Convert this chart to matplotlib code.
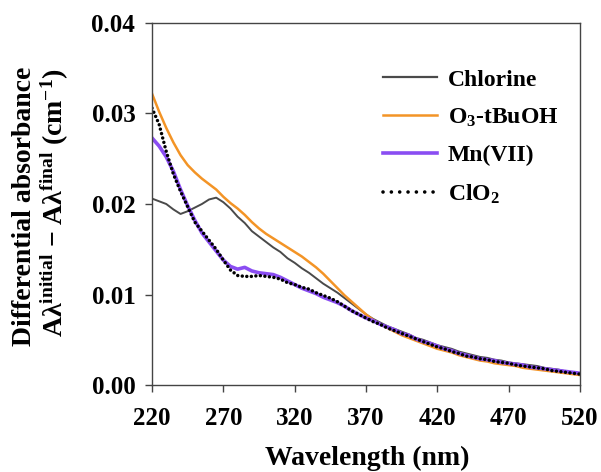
import numpy as np
import matplotlib
matplotlib.use("Agg")
import matplotlib.pyplot as plt
from matplotlib.lines import Line2D

plt.rcParams["font.family"] = ["Liberation Serif", "DejaVu Serif"]
plt.rcParams["font.weight"] = "bold"
plt.rcParams["mathtext.fontset"] = "custom"
plt.rcParams["mathtext.rm"] = "Liberation Serif:bold"
plt.rcParams["mathtext.it"] = "Liberation Serif:bold"
plt.rcParams["mathtext.bf"] = "Liberation Serif:bold"

# Wavelength grid (nm)
wavelength = list(range(220, 521, 5))

chlorine = [
    0.0206, 0.0203, 0.0200, 0.0194, 0.0189, 0.0192, 0.0196, 0.0200, 0.0205, 0.0207,
    0.0202, 0.0195, 0.0186, 0.0179, 0.0170, 0.0164, 0.0158, 0.0152, 0.0147, 0.0140,
    0.0135, 0.0129, 0.0124, 0.0118, 0.0112, 0.0107, 0.0102, 0.0096, 0.0090, 0.0084,
    0.0078, 0.0073, 0.0069, 0.0065, 0.0062, 0.0059, 0.0056, 0.0052, 0.0050, 0.0047,
    0.0044, 0.0042, 0.0040, 0.0037, 0.0035, 0.0033, 0.0031, 0.0030, 0.0028, 0.0027,
    0.0025, 0.0024, 0.0023, 0.0022, 0.0021, 0.0019, 0.0018, 0.0017, 0.0015, 0.0014,
    0.0013,
]

ozone_tbuoh = [
    0.0322, 0.0302, 0.0284, 0.0268, 0.0254, 0.0243, 0.0235, 0.0228, 0.0222, 0.0216,
    0.0208, 0.0201, 0.0195, 0.0188, 0.0180, 0.0173, 0.0167, 0.0162, 0.0157, 0.0152,
    0.0147, 0.0142, 0.0136, 0.0130, 0.0123, 0.0115, 0.0107, 0.0099, 0.0092, 0.0085,
    0.0078, 0.0072, 0.0067, 0.0063, 0.0059, 0.0055, 0.0052, 0.0049, 0.0046, 0.0043,
    0.0040, 0.0038, 0.0036, 0.0033, 0.0031, 0.0029, 0.0027, 0.0026, 0.0024, 0.0023,
    0.0022, 0.0021, 0.0019, 0.0018, 0.0017, 0.0016, 0.0015, 0.0014, 0.0013, 0.0012,
    0.0011,
]

mn_vii = [
    0.0273, 0.0264, 0.0252, 0.0236, 0.0216, 0.0198, 0.0182, 0.0168, 0.0158, 0.0148,
    0.0138, 0.0131, 0.0128, 0.0130, 0.0126, 0.0124, 0.0123, 0.0122, 0.0119, 0.0115,
    0.0111, 0.0107, 0.0104, 0.0101, 0.0097, 0.0094, 0.0091, 0.0087, 0.0082, 0.0078,
    0.0074, 0.0071, 0.0067, 0.0064, 0.0061, 0.0057, 0.0055, 0.0051, 0.0048, 0.0046,
    0.0043, 0.0040, 0.0038, 0.0035, 0.0033, 0.0031, 0.0029, 0.0028, 0.0027, 0.0025,
    0.0024, 0.0023, 0.0022, 0.0020, 0.0019, 0.0018, 0.0017, 0.0016, 0.0015, 0.0014,
    0.0013,
]

clo2 = [
    0.0306, 0.0288, 0.0258, 0.0233, 0.0214, 0.0197, 0.0180, 0.0170, 0.0160, 0.0150,
    0.0138, 0.0127, 0.0121, 0.0120, 0.0120, 0.0121, 0.0120, 0.0119, 0.0117, 0.0113,
    0.0111, 0.0108, 0.0106, 0.0102, 0.0099, 0.0096, 0.0092, 0.0087, 0.0082, 0.0078,
    0.0074, 0.0070, 0.0067, 0.0063, 0.0060, 0.0057, 0.0054, 0.0051, 0.0048, 0.0045,
    0.0042, 0.0040, 0.0037, 0.0035, 0.0032, 0.0031, 0.0029, 0.0028, 0.0026, 0.0025,
    0.0024, 0.0022, 0.0021, 0.0020, 0.0019, 0.0018, 0.0016, 0.0015, 0.0014, 0.0013,
    0.0012,
]

x_ticks = [220, 270, 320, 370, 420, 470, 520]
y_ticks = [0.00, 0.01, 0.02, 0.03, 0.04]

fig = plt.figure(figsize=(6.01, 4.72), dpi=100)
ax = fig.add_axes([0.2529, 0.1843, 0.7122, 0.767])

gray, orange, purple = "#4a4a4a", "#f39426", "#8a4df2"
ax.plot(wavelength, chlorine, color=gray, lw=1.4)
ax.plot(wavelength, ozone_tbuoh, color=orange, lw=1.8)
ax.plot(wavelength, mn_vii, color=purple, lw=2.6)
ax.plot(wavelength, clo2, color="black", lw=2.5, linestyle=(0, (0.01, 1.3)),
        dash_capstyle="round")

ax.set_xlim(220, 520)
ax.set_ylim(0, 0.04)
ax.set_xticks(x_ticks)
ax.set_yticks(y_ticks)
ax.set_yticklabels([f"{v:.2f}" for v in y_ticks])

for side in ("left", "bottom", "top", "right"):
    ax.spines[side].set_color("#444444")
    ax.spines[side].set_linewidth(1.0)

ax.tick_params(axis="both", direction="out", length=5, width=1,
               color="#444444", labelsize=18)
ax.tick_params(axis="y", pad=7)
ax.tick_params(axis="x", pad=11)

fig.text(0.6115, 0.0145, "Wavelength (nm)", ha="center", va="baseline",
         fontsize=20, fontweight="bold")

fig.text(0.040, 0.5636, "Differential absorbance", rotation=90,
         ha="center", va="center", fontsize=20, fontweight="bold")
fig.text(0.091, 0.571,
         "A\u03bb$^{\\mathrm{initial}}$ \u2212 A\u03bb$^{\\mathrm{final}}$ (cm$^{-1}$)",
         rotation=90, ha="center", va="center", fontsize=20, fontweight="bold")

# legend keys (dotted key drawn with wider dot spacing)
handles = [
    Line2D([], [], color=gray, lw=1.6),
    Line2D([], [], color=orange, lw=1.8),
    Line2D([], [], color=purple, lw=2.6),
    Line2D([], [], color="black", lw=2.6, linestyle=(0, (0.01, 2.3)),
           dash_capstyle="round"),
]
labels = ["Chlorine", "O$_3$-tBuOH", "Mn(VII)", "ClO$_2$"]
ax.legend(handles, labels, loc="upper left",
          bbox_to_anchor=(383 / 601, 1 - 69 / 472),
          bbox_transform=fig.transFigure, frameon=False, fontsize=17,
          handlelength=2.3, handletextpad=0.45, labelspacing=0.68,
          borderpad=0, borderaxespad=0)

fig.savefig("out.png", dpi=100)
